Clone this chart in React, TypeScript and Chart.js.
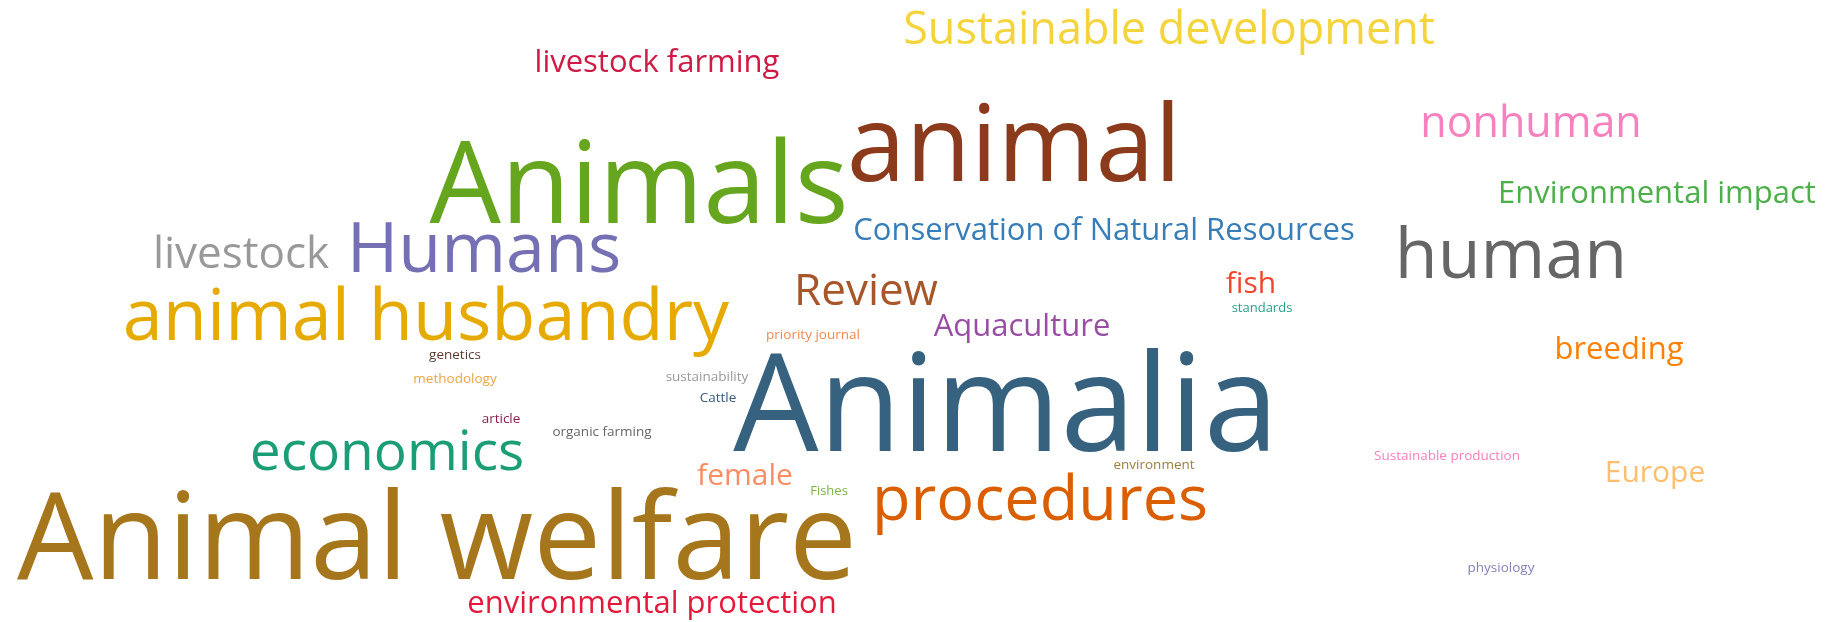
import React, { useEffect, useRef } from "react";
import { Chart, registerables } from "chart.js";

Chart.register(...registerables);

// Word cloud data: word, weight (font px), layout position (x = word centre, y = baseline) and colour
const words: string[] = [
  "Sustainable development",
  "livestock farming",
  "animal",
  "Animals",
  "nonhuman",
  "Environmental impact",
  "Conservation of Natural Resources",
  "human",
  "livestock",
  "Humans",
  "Review",
  "fish",
  "standards",
  "animal husbandry",
  "Aquaculture",
  "priority journal",
  "breeding",
  "genetics",
  "methodology",
  "sustainability",
  "Cattle",
  "Animalia",
  "article",
  "organic farming",
  "economics",
  "Sustainable production",
  "environment",
  "Europe",
  "female",
  "Fishes",
  "procedures",
  "Animal welfare",
  "environmental protection",
  "physiology",
];

const weights: number[] = [
  45, 31, 106, 113, 43, 31, 31, 70, 44, 70, 44, 30, 13, 72, 31, 13.5, 31, 13.5,
  13.5, 13.5, 13.5, 135, 13.5, 13.5, 55, 13.5, 13.5, 30, 30, 13, 63, 121, 31, 13.5,
];

const layoutX: number[] = [
  1169, 657, 1014, 639, 1531, 1657, 1104, 1511, 241, 484, 866, 1251, 1262, 426,
  1022, 813, 1619, 455, 455, 707, 718, 1006, 501, 602, 387, 1447, 1154, 1655, 745,
  829, 1040, 437, 652, 1501,
];

const layoutY: number[] = [
  44, 72, 181, 223, 137, 203, 240, 278, 268, 272, 305, 293, 312, 340, 336, 339,
  359, 359, 383, 381, 402, 451, 423, 436, 470, 460, 469, 482, 485, 495, 520, 579,
  613, 572,
];

const colors: string[] = [
  "#f4d43c", "#ce1a45", "#8b3a1b", "#66a61e", "#f781bf", "#4daf4a", "#377eb8",
  "#666666", "#999999", "#7570b3", "#a65628", "#f0462e", "#26a08a", "#e6ab02",
  "#984ea3", "#f08a50", "#ff7f00", "#5c3a2e", "#e8a646", "#999999", "#3a5a7a",
  "#36617f", "#8a1f4f", "#666666", "#1b9e77", "#f781bf", "#9b7e3c", "#fdbf6f",
  "#fc8d62", "#7cb342", "#d95f02", "#a6761d", "#e31a3c", "#8083b5",
];

const WIDTH = 1840;
const HEIGHT = 622;
const FONT_FAMILY = '"Segoe UI", "Open Sans", sans-serif';

const wordPlugin = {
  id: "wordText",
  afterDatasetsDraw(chart: any) {
    const ctx = chart.ctx;
    const meta = chart.getDatasetMeta(0);
    ctx.save();
    ctx.textAlign = "center";
    ctx.textBaseline = "alphabetic";
    meta.data.forEach((el: any, i: number) => {
      ctx.font = `${weights[i]}px ${FONT_FAMILY}`;
      ctx.fillStyle = colors[i];
      ctx.fillText(words[i], el.x, el.y);
    });
    ctx.restore();
  },
};

export default function App() {
  const ref = useRef<HTMLCanvasElement | null>(null);

  useEffect(() => {
    document.body.style.margin = "0";
    document.body.style.overflow = "hidden";
    const canvas = ref.current;
    if (!canvas) return;
    const chart = new Chart(canvas, {
      type: "scatter",
      data: {
        datasets: [
          {
            label: "words",
            data: words.map((_, i) => ({ x: layoutX[i], y: layoutY[i] })),
            pointRadius: 0,
            pointHoverRadius: 0,
            backgroundColor: colors,
          },
        ],
      },
      options: {
        animation: false,
        responsive: false,
        devicePixelRatio: 1,
        layout: { padding: 0 },
        plugins: {
          legend: { display: false },
          tooltip: { enabled: false },
        },
        scales: {
          x: { type: "linear", min: 0, max: WIDTH, display: false },
          y: { type: "linear", min: 0, max: HEIGHT, reverse: true, display: false },
        },
      },
      plugins: [wordPlugin],
    });
    return () => chart.destroy();
  }, []);

  return (
    <div style={{ width: WIDTH, height: HEIGHT, background: "#ffffff" }}>
      <canvas ref={ref} width={WIDTH} height={HEIGHT} style={{ display: "block" }} />
    </div>
  );
}
